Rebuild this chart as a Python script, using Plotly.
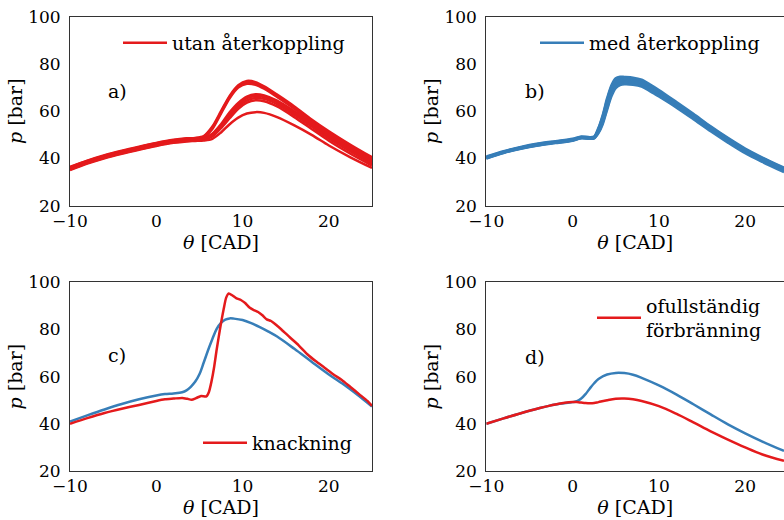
import plotly.graph_objects as go

RED = "#e41a1c"
BLUE = "#377eb8"

# ---------------- panel a) utan återkoppling ----------------
xa = [-10, -8, -6, -4, -2, 0, 2, 3.5, 4.5, 5.5, 6.5, 7.5, 8.5, 9.5, 10.5, 11.5, 12.5, 14, 16, 18, 20, 22.5, 25]
a1 = [36.4, 39.1, 41.4, 43.3, 45.0, 46.6, 47.9, 48.5, 48.7, 49.5, 53.5, 60.0, 66.5, 71.0, 72.8, 72.3, 70.5, 67.0, 62.0, 56.5, 51.5, 45.8, 40.5]
a2 = [36.2, 38.9, 41.2, 43.1, 44.8, 46.4, 47.7, 48.3, 48.5, 49.3, 53.0, 59.5, 66.0, 70.5, 72.2, 71.8, 70.0, 66.5, 61.5, 56.0, 51.0, 45.3, 40.0]
a3 = [36.0, 38.7, 41.0, 42.9, 44.6, 46.2, 47.5, 48.1, 48.3, 49.0, 52.5, 59.0, 65.5, 70.0, 71.6, 71.2, 69.5, 66.0, 61.0, 55.5, 50.5, 45.0, 39.6]
a4 = [35.8, 38.5, 40.8, 42.7, 44.4, 46.0, 47.3, 47.9, 48.1, 48.6, 50.5, 54.5, 59.5, 63.5, 66.2, 67.2, 66.7, 64.5, 60.0, 55.0, 50.0, 44.3, 39.0]
a5 = [35.6, 38.3, 40.6, 42.5, 44.2, 45.8, 47.1, 47.7, 47.9, 48.4, 50.2, 54.0, 58.8, 62.8, 65.5, 66.4, 66.0, 63.8, 59.3, 54.3, 49.3, 43.6, 38.4]
a6 = [35.5, 38.2, 40.5, 42.4, 44.1, 45.7, 47.0, 47.6, 47.8, 48.2, 49.8, 53.5, 58.0, 62.0, 64.6, 65.6, 65.2, 63.0, 58.5, 53.5, 48.5, 43.0, 37.8]
a7 = [35.3, 38.0, 40.3, 42.2, 43.9, 45.5, 46.8, 47.4, 47.6, 48.0, 49.3, 52.8, 57.0, 61.0, 63.6, 64.6, 64.2, 62.0, 57.5, 52.5, 47.5, 42.0, 37.0]
a8 = [35.1, 37.8, 40.1, 42.0, 43.7, 45.3, 46.6, 47.2, 47.4, 47.6, 48.3, 51.0, 54.5, 57.3, 59.0, 59.6, 59.3, 57.5, 54.0, 50.0, 45.5, 40.5, 36.0]
curves_a = [a1, a2, a3, a4, a5, a6, a7, a8]

# ---------------- panel b) med återkoppling ----------------
xb = [-10, -8, -6, -4, -2, 0, 1, 2, 2.5, 3, 3.5, 4, 4.5, 5, 5.5, 6, 7, 8, 9, 10, 12, 14, 16, 18, 20, 22, 24.5]
b1 = [40.8, 43.1, 44.9, 46.3, 47.3, 48.3, 49.3, 49.0, 49.3, 53.0, 58.5, 65.5, 71.0, 74.0, 74.6, 74.5, 74.2, 73.3, 71.3, 69.0, 64.0, 58.9, 53.6, 48.7, 44.2, 40.4, 36.1]
b2 = [40.6, 42.9, 44.7, 46.1, 47.1, 48.1, 49.1, 48.9, 49.1, 52.6, 58.0, 64.8, 70.3, 73.3, 74.0, 73.9, 73.6, 72.8, 70.8, 68.5, 63.6, 58.5, 53.3, 48.4, 43.9, 40.1, 35.8]
b3 = [40.5, 42.8, 44.6, 46.0, 47.0, 48.0, 49.0, 48.8, 49.0, 52.2, 57.4, 64.0, 69.5, 72.5, 73.4, 73.3, 73.1, 72.3, 70.3, 68.1, 63.3, 58.2, 53.0, 48.2, 43.7, 39.9, 35.6]
b4 = [40.4, 42.7, 44.5, 45.9, 46.9, 47.9, 48.9, 48.7, 48.9, 51.9, 56.9, 63.4, 68.9, 71.9, 72.9, 73.0, 72.8, 72.0, 70.0, 67.8, 63.0, 58.0, 52.8, 48.0, 43.5, 39.8, 35.5]
b5 = [40.3, 42.6, 44.4, 45.8, 46.8, 47.8, 48.8, 48.6, 48.8, 51.6, 56.3, 62.7, 68.2, 71.3, 72.4, 72.6, 72.4, 71.6, 69.6, 67.4, 62.7, 57.7, 52.5, 47.7, 43.2, 39.5, 35.2]
b6 = [40.2, 42.5, 44.3, 45.7, 46.7, 47.7, 48.7, 48.5, 48.7, 51.3, 55.8, 62.0, 67.6, 70.8, 71.9, 72.2, 72.0, 71.2, 69.2, 67.0, 62.3, 57.3, 52.2, 47.4, 42.9, 39.2, 34.9]
b7 = [40.1, 42.4, 44.2, 45.6, 46.6, 47.6, 48.6, 48.4, 48.6, 51.0, 55.2, 61.3, 67.0, 70.3, 71.5, 71.8, 71.6, 70.8, 68.8, 66.6, 62.0, 57.0, 51.9, 47.1, 42.6, 38.9, 34.6]
b8 = [40.0, 42.3, 44.1, 45.5, 46.5, 47.5, 48.5, 48.3, 48.5, 50.7, 54.6, 60.6, 66.3, 69.8, 71.0, 71.4, 71.2, 70.4, 68.4, 66.2, 61.6, 56.6, 51.5, 46.7, 42.2, 38.5, 34.2]
curves_b = [b1, b2, b3, b4, b5, b6, b7, b8]

# ---------------- panel c) knackning ----------------
xc_blue = [-10, -8, -6, -4, -2, 0, 1, 2, 3, 3.5, 4, 4.5, 5, 5.5, 6, 6.5, 7, 7.5, 8, 8.5, 9, 10, 11, 12, 13, 14, 16, 18, 20, 22, 24, 25]
c_blue = [41.0, 43.6, 46.1, 48.4, 50.4, 52.0, 52.6, 52.9, 53.4, 54.2, 55.7, 57.8, 61.0, 66.0, 71.2, 76.0, 80.3, 82.8, 84.2, 84.7, 84.6, 84.0, 82.7, 81.0, 79.1, 77.0, 71.8, 66.3, 60.9, 55.9, 50.3, 47.3]
xc_red = [-10, -8, -6, -4, -2, 0, 1, 2, 3, 3.6, 4.1, 4.6, 5.2, 5.8, 6.1, 6.4, 6.7, 7.0, 7.4, 7.8, 8.1, 8.4, 8.8, 9.3, 9.8, 10.3, 10.8, 11.3, 11.8, 12.3, 12.8, 13.3, 13.8, 14.5, 15.5, 16.5, 17.5, 18.5, 19.5, 20.5, 21.5, 22.5, 23.5, 24.5, 25]
c_red = [40.0, 42.4, 44.6, 46.4, 48.0, 49.7, 50.4, 50.7, 51.0, 50.6, 50.2, 50.9, 51.8, 51.6, 53.5, 58.0, 64.0, 71.5, 80.5, 88.5, 93.5, 95.3, 94.5, 93.2, 92.5, 91.2, 89.3, 88.2, 87.4, 86.0, 84.3, 83.6, 82.2, 80.0, 76.6, 73.3, 69.5, 66.5, 63.8, 61.0, 58.6, 55.6, 52.6, 49.6, 47.6]

# ---------------- panel d) ofullständig förbränning ----------------
xd = [-10, -8, -6, -4, -2, 0, 0.5, 1, 1.5, 2, 2.5, 3, 4, 5, 6, 7, 8, 10, 12, 14, 16, 18, 20, 22, 24.5]
d_blue = [40.0, 42.3, 44.5, 46.5, 48.2, 49.2, 49.6, 50.7, 52.6, 55.0, 57.2, 59.0, 60.9, 61.6, 61.5, 60.8, 59.5, 56.3, 52.5, 48.3, 44.0, 39.8, 36.0, 32.5, 28.5]
d_red = [40.0, 42.3, 44.5, 46.5, 48.2, 49.2, 49.2, 49.0, 48.8, 48.7, 48.8, 49.2, 50.0, 50.6, 50.7, 50.4, 49.7, 47.5, 44.3, 40.6, 36.8, 33.3, 30.0, 27.0, 24.3]

labels = ["a)", "b)", "c)", "d)"]
legend_names = ["utan återkoppling", "med återkoppling", "knackning", "ofullständig<br>förbränning"]
x_ticks = [-10, 0, 10, 20]
x_ticktext = ["\u221210", "0", "10", "20"]
y_ticks = [20, 40, 60, 80, 100]

FONT = "DejaVu Serif"
LW = 2.5

fig = go.Figure()

def add(x, y, color, axis, legend, show, name, smooth=0.6):
    fig.add_trace(go.Scatter(
        x=x, y=y, mode="lines", name=name,
        line=dict(color=color, width=LW, shape="spline", smoothing=smooth),
        xaxis="x" + axis, yaxis="y" + axis,
        legend=legend, showlegend=show, hoverinfo="skip"))

for i, c in enumerate(curves_a):
    add(xa, c, RED, "", "legend", i == 0, legend_names[0], 0.8)
for i, c in enumerate(curves_b):
    add(xb, c, BLUE, "2", "legend2", i == 0, legend_names[1], 0.8)
add(xc_blue, c_blue, BLUE, "3", "legend3", False, "", 1.0)
add(xc_red, c_red, RED, "3", "legend3", True, legend_names[2], 0.6)
add(xd, d_blue, BLUE, "4", "legend4", False, "", 1.0)
add(xd, d_red, RED, "4", "legend4", True, legend_names[3], 1.0)

W, H = 784, 520
left_dom = [70 / W, 372 / W]
right_dom = [486.3 / W, 1.0]
top_dom = [1 - 205.7 / H, 1 - 16.7 / H]
bot_dom = [1 - 471 / H, 1 - 282.3 / H]

def xax(dom, anchor, rng):
    return dict(domain=dom, anchor=anchor, range=rng, tickvals=x_ticks, ticktext=x_ticktext,
                showgrid=False, zeroline=False, showline=True, linecolor="#333", linewidth=1,
                mirror=True, ticks="", automargin=False,
                tickfont=dict(family=FONT, size=17, color="black"),
                title=dict(text="<i>θ</i> [CAD]", font=dict(family=FONT, size=19, color="black"), standoff=2))

def yax(dom, anchor, right_panel):
    return dict(domain=dom, anchor=anchor, range=[20, 100], tickvals=y_ticks,
                showgrid=False, zeroline=False, showline=True, linecolor="#333", linewidth=1,
                mirror=False if right_panel else True, ticks="", ticklabelstandoff=5, automargin=True,
                tickfont=dict(family=FONT, size=17, color="black"),
                title=dict(text="<i>p</i> [bar]", font=dict(family=FONT, size=19, color="black"), standoff=0))

fig.update_layout(
    width=W, height=H, margin=dict(l=0, r=0, t=0, b=0, autoexpand=False),
    paper_bgcolor="white", plot_bgcolor="white",
    xaxis=xax(left_dom, "y", [-10, 25]), yaxis=yax(top_dom, "x", False),
    xaxis2=xax(right_dom, "y2", [-10, 24.5]), yaxis2=yax(top_dom, "x2", True),
    xaxis3=xax(left_dom, "y3", [-10, 25]), yaxis3=yax(bot_dom, "x3", False),
    xaxis4=xax(right_dom, "y4", [-10, 24.5]), yaxis4=yax(bot_dom, "x4", True),
)

legfont = dict(family=FONT, size=19, color="black")
def leg(x, y):
    return dict(x=x / W, y=1 - y / H, xanchor="left", yanchor="middle", bgcolor="rgba(0,0,0,0)",
                borderwidth=0, font=legfont, itemwidth=44, tracegroupgap=0)

fig.update_layout(legend=leg(118, 43), legend2=leg(535, 43), legend3=leg(198, 443), legend4=leg(592, 318))

label_pos = [("x", "y", -4.5, 68.5), ("x2", "y2", -4.4, 68.5), ("x3", "y3", -4.5, 69.2), ("x4", "y4", -4.4, 68.5)]
for lab, (xr, yr, lx, ly) in zip(labels, label_pos):
    fig.add_annotation(x=lx, y=ly, xref=xr, yref=yr, text=lab, showarrow=False,
                       font=dict(family=FONT, size=19, color="black"))

fig.write_html("out.html", config={"displayModeBar": False},
               post_script="document.body.style.margin='0px';")
